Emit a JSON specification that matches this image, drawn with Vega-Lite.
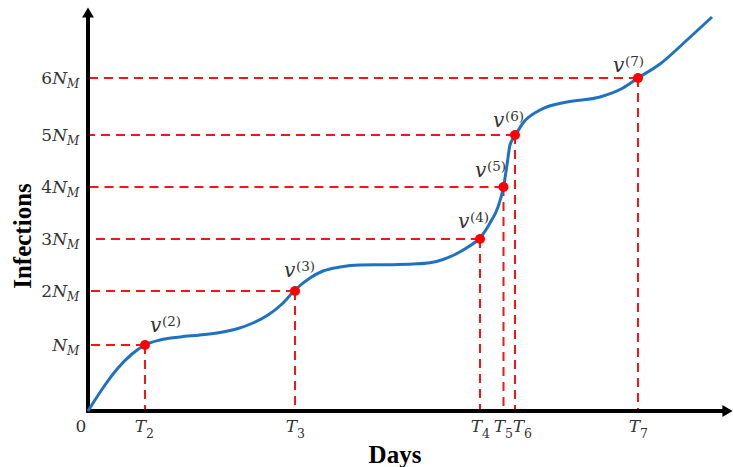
{
  "$schema": "https://vega.github.io/schema/vega-lite/v6.json",
  "width": 644,
  "height": 404,
  "autosize": {"type": "none"},
  "padding": {"left": 88, "top": 7, "right": 1, "bottom": 56},
  "background": "white",
  "config": {"view": {"stroke": null}},
  "datasets": {
    "one": [{"id": 1}],
    "curve": [
      {"day": 0, "inf": 0}, {"day": 7, "inf": 11}, {"day": 17, "inf": 26}, {"day": 30, "inf": 43},
      {"day": 44, "inf": 57}, {"day": 57, "inf": 66}, {"day": 72, "inf": 71}, {"day": 92, "inf": 74},
      {"day": 112, "inf": 76}, {"day": 132, "inf": 78.5}, {"day": 150, "inf": 82.5}, {"day": 165, "inf": 88},
      {"day": 180, "inf": 96}, {"day": 194, "inf": 107}, {"day": 207, "inf": 121}, {"day": 222, "inf": 133},
      {"day": 235, "inf": 140}, {"day": 252, "inf": 144}, {"day": 272, "inf": 146}, {"day": 302, "inf": 146.3},
      {"day": 325, "inf": 147}, {"day": 342, "inf": 148.3}, {"day": 355, "inf": 151.5}, {"day": 367, "inf": 156.5},
      {"day": 380, "inf": 164}, {"day": 392, "inf": 173}, {"day": 402, "inf": 188}, {"day": 410, "inf": 204},
      {"day": 415.5, "inf": 224}, {"day": 419, "inf": 246}, {"day": 422, "inf": 266}, {"day": 427, "inf": 275},
      {"day": 435, "inf": 288}, {"day": 452, "inf": 301}, {"day": 479, "inf": 309}, {"day": 512, "inf": 314},
      {"day": 535, "inf": 323}, {"day": 550, "inf": 333}, {"day": 572, "inf": 347}, {"day": 599, "inf": 371},
      {"day": 624, "inf": 394}
    ],
    "pts": [
      {"k": "2", "day": 57, "inf": 66, "coef": "", "sup": "(2)", "tlx": 58, "vlx": 62, "vly": 79},
      {"k": "3", "day": 207, "inf": 120, "coef": "2", "sup": "(3)", "tlx": 209, "vlx": 196, "vly": 134},
      {"k": "4", "day": 392, "inf": 172, "coef": "3", "sup": "(4)", "tlx": 394, "vlx": 370, "vly": 183},
      {"k": "5", "day": 415.5, "inf": 224, "coef": "4", "sup": "(5)", "tlx": 417, "vlx": 387, "vly": 234},
      {"k": "6", "day": 427, "inf": 276, "coef": "5", "sup": "(6)", "tlx": 436, "vlx": 405, "vly": 284},
      {"k": "7", "day": 550, "inf": 333, "coef": "6", "sup": "(7)", "tlx": 552, "vlx": 525, "vly": 339}
    ]
  },
  "layer": [
    {
      "data": {"name": "pts"},
      "mark": {"type": "rule", "color": "#f51515", "strokeWidth": 2, "strokeDash": [9, 6]},
      "encoding": {
        "x": {"field": "day", "type": "quantitative", "scale": {"domain": [0, 644], "nice": false, "zero": false}, "axis": null},
        "x2": {"datum": 0},
        "y": {"field": "inf", "type": "quantitative", "scale": {"domain": [0, 404], "nice": false, "zero": false}, "axis": null}
      }
    },
    {
      "data": {"name": "pts"},
      "mark": {"type": "rule", "color": "#f51515", "strokeWidth": 2, "strokeDash": [9, 6]},
      "encoding": {
        "x": {"field": "day", "type": "quantitative", "axis": null},
        "y": {"field": "inf", "type": "quantitative", "axis": null},
        "y2": {"datum": 0}
      }
    },
    {
      "data": {"name": "one"},
      "mark": {"type": "rule", "color": "black", "strokeWidth": 4},
      "encoding": {
        "x": {"datum": 0, "type": "quantitative", "axis": null},
        "x2": {"datum": 636},
        "y": {"datum": 0, "type": "quantitative", "axis": null}
      }
    },
    {
      "data": {"name": "one"},
      "mark": {"type": "rule", "color": "black", "strokeWidth": 4},
      "encoding": {
        "x": {"datum": 0, "type": "quantitative", "axis": null},
        "y": {"datum": -2, "type": "quantitative", "axis": null},
        "y2": {"datum": 394}
      }
    },
    {
      "data": {"name": "one"},
      "mark": {"type": "point", "shape": "triangle-up", "filled": true, "color": "black", "size": 140, "opacity": 1},
      "encoding": {
        "x": {"datum": 0, "type": "quantitative", "axis": null},
        "y": {"datum": 398.5, "type": "quantitative", "axis": null}
      }
    },
    {
      "data": {"name": "one"},
      "mark": {"type": "point", "shape": "triangle-right", "filled": true, "color": "black", "size": 140, "opacity": 1},
      "encoding": {
        "x": {"datum": 639.5, "type": "quantitative", "axis": null},
        "y": {"datum": 0, "type": "quantitative", "axis": null}
      }
    },
    {
      "data": {"name": "curve"},
      "mark": {"type": "line", "color": "#1f72c0", "strokeWidth": 3, "interpolate": "monotone"},
      "encoding": {
        "x": {"field": "day", "type": "quantitative", "axis": null},
        "y": {"field": "inf", "type": "quantitative", "axis": null}
      }
    },
    {
      "data": {"name": "pts"},
      "mark": {"type": "circle", "color": "#ff0000", "size": 100, "opacity": 1},
      "encoding": {
        "x": {"field": "day", "type": "quantitative", "axis": null},
        "y": {"field": "inf", "type": "quantitative", "axis": null}
      }
    },
    {
      "data": {"name": "pts"},
      "mark": {"type": "text", "text": "v", "font": "DejaVu Serif", "fontStyle": "italic", "fontSize": 20, "align": "left", "baseline": "alphabetic", "color": "#333"},
      "encoding": {
        "x": {"field": "vlx", "type": "quantitative", "axis": null},
        "y": {"field": "vly", "type": "quantitative", "axis": null}
      }
    },
    {
      "data": {"name": "pts"},
      "mark": {"type": "text", "font": "DejaVu Serif", "fontSize": 13.5, "align": "left", "baseline": "alphabetic", "dx": 12, "dy": -6, "color": "#333"},
      "encoding": {
        "x": {"field": "vlx", "type": "quantitative", "axis": null},
        "y": {"field": "vly", "type": "quantitative", "axis": null},
        "text": {"field": "sup", "type": "nominal"}
      }
    },
    {
      "data": {"name": "pts"},
      "mark": {"type": "text", "font": "DejaVu Serif", "fontSize": 17, "align": "right", "baseline": "alphabetic", "dy": 6, "color": "#333"},
      "encoding": {
        "x": {"datum": -36, "type": "quantitative", "axis": null},
        "y": {"field": "inf", "type": "quantitative", "axis": null},
        "text": {"field": "coef", "type": "nominal"}
      }
    },
    {
      "data": {"name": "pts"},
      "mark": {"type": "text", "text": "N", "font": "DejaVu Serif", "fontStyle": "italic", "fontSize": 17, "align": "right", "baseline": "alphabetic", "dy": 6, "color": "#333"},
      "encoding": {
        "x": {"datum": -21, "type": "quantitative", "axis": null},
        "y": {"field": "inf", "type": "quantitative", "axis": null}
      }
    },
    {
      "data": {"name": "pts"},
      "mark": {"type": "text", "text": "M", "font": "DejaVu Serif", "fontStyle": "italic", "fontSize": 12, "align": "left", "baseline": "alphabetic", "dy": 10, "color": "#333"},
      "encoding": {
        "x": {"datum": -21, "type": "quantitative", "axis": null},
        "y": {"field": "inf", "type": "quantitative", "axis": null}
      }
    },
    {
      "data": {"name": "pts"},
      "mark": {"type": "text", "text": "T", "font": "DejaVu Serif", "fontStyle": "italic", "fontSize": 17, "align": "right", "baseline": "alphabetic", "color": "#333"},
      "encoding": {
        "x": {"field": "tlx", "type": "quantitative", "axis": null},
        "y": {"datum": -21, "type": "quantitative", "axis": null}
      }
    },
    {
      "data": {"name": "pts"},
      "mark": {"type": "text", "font": "DejaVu Serif", "fontSize": 12.5, "align": "left", "baseline": "alphabetic", "color": "#333"},
      "encoding": {
        "x": {"field": "tlx", "type": "quantitative", "axis": null},
        "y": {"datum": -27, "type": "quantitative", "axis": null},
        "text": {"field": "k", "type": "nominal"}
      }
    },
    {
      "data": {"name": "one"},
      "mark": {"type": "text", "text": "0", "font": "DejaVu Serif", "fontSize": 17, "align": "center", "baseline": "alphabetic", "color": "#333"},
      "encoding": {
        "x": {"datum": -7, "type": "quantitative", "axis": null},
        "y": {"datum": -21, "type": "quantitative", "axis": null}
      }
    },
    {
      "data": {"name": "one"},
      "mark": {"type": "text", "text": "Days", "font": "Liberation Serif", "fontWeight": "bold", "fontSize": 25, "align": "center", "baseline": "middle", "color": "black"},
      "encoding": {
        "x": {"datum": 307, "type": "quantitative", "axis": null},
        "y": {"datum": -44, "type": "quantitative", "axis": null}
      }
    },
    {
      "data": {"name": "one"},
      "mark": {"type": "text", "text": "Infections", "font": "Liberation Serif", "fontWeight": "bold", "fontSize": 25, "align": "center", "baseline": "middle", "angle": 270, "color": "black"},
      "encoding": {
        "x": {"datum": -65, "type": "quantitative", "axis": null},
        "y": {"datum": 175, "type": "quantitative", "axis": null}
      }
    }
  ]
}
